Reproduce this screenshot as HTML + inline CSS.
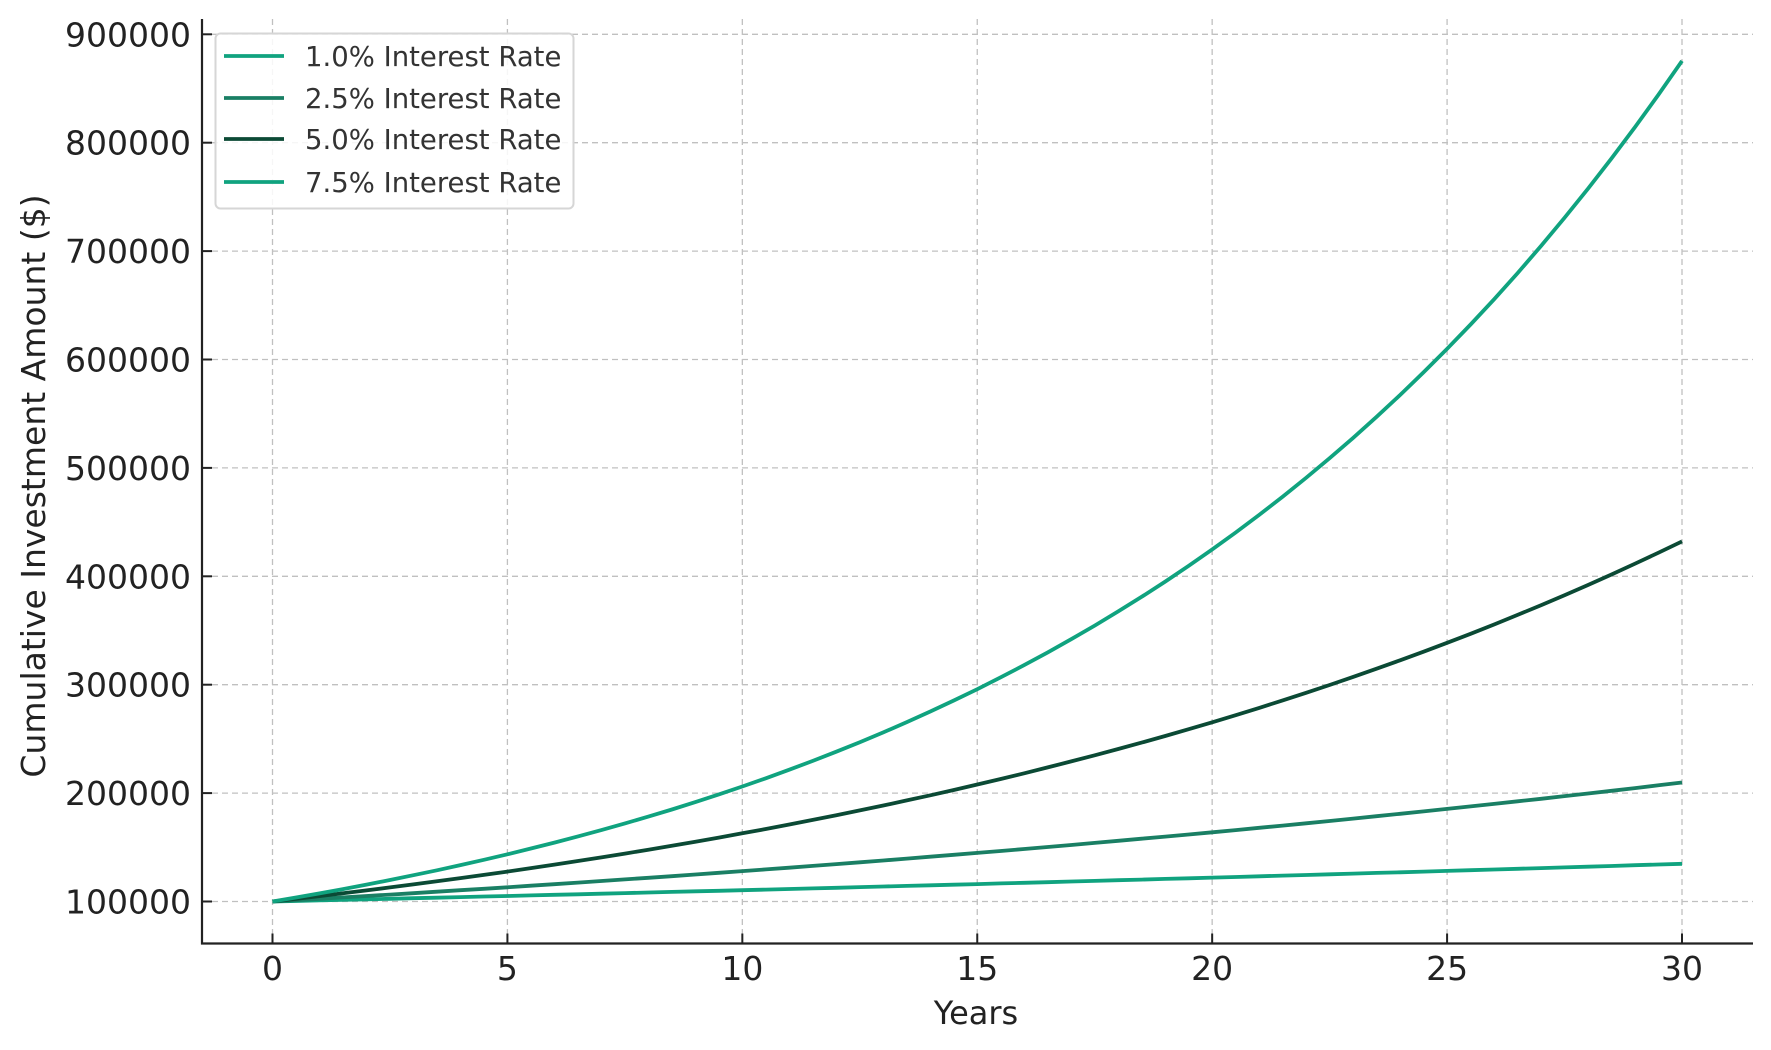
<!DOCTYPE html>
<html><head><meta charset="utf-8"><style>
html,body{margin:0;padding:0;background:#fff;}
svg{display:block;font-family:"DejaVu Sans","Liberation Sans",sans-serif;}
</style></head><body>
<svg id="c" width="1771" height="1050" viewBox="0 0 1771 1050" xmlns="http://www.w3.org/2000/svg">
<rect width="1771" height="1050" fill="#fff"/>
<g id="grid" stroke="#c0c0c0" stroke-width="1.3" stroke-dasharray="6,4"></g>
<g id="series" fill="none" stroke-width="3.8" stroke-linejoin="round"></g>
<g stroke="#222" stroke-width="2.2">
<line x1="202" y1="19" x2="202" y2="944.5"/>
<line x1="201" y1="943.5" x2="1753" y2="943.5"/>
</g>
<g id="ticks" stroke="#222" stroke-width="2"></g>
<g id="labels" fill="#222" font-size="33"></g>
<text x="976" y="1024" font-size="32" text-anchor="middle" fill="#222">Years</text>
<text transform="translate(45,486) rotate(-90)" font-size="33" text-anchor="middle" fill="#222">Cumulative Investment Amount ($)</text>
<rect x="215.5" y="33.5" width="358" height="175" rx="5" fill="#fff" fill-opacity="0.85" stroke="#d6d6d6" stroke-width="2"/>
<g font-size="27.5" fill="#333" stroke-width="3.8">
<line x1="224" y1="56" x2="284" y2="56" stroke="#10a37f"/><text x="305" y="66">1.0% Interest Rate</text>
<line x1="224" y1="98" x2="284" y2="98" stroke="#1a7f64"/><text x="305" y="108">2.5% Interest Rate</text>
<line x1="224" y1="139" x2="284" y2="139" stroke="#0b4a35"/><text x="305" y="149">5.0% Interest Rate</text>
<line x1="224" y1="182" x2="284" y2="182" stroke="#10a37f"/><text x="305" y="192">7.5% Interest Rate</text>
</g>
</svg>
<script>
var NS="http://www.w3.org/2000/svg";
function X(t){return 272.5+t*(1682-272.5)/30;}
function Y(v){return 901.5-(v-100000)/100000*108.4;}
function el(p,tag,a,txt){var e=document.createElementNS(NS,tag);for(var k in a)e.setAttribute(k,a[k]);if(txt)e.textContent=txt;document.getElementById(p).appendChild(e);}
for(var t=0;t<=30;t+=5){el("grid","line",{x1:X(t),y1:19,x2:X(t),y2:943});
 el("ticks","line",{x1:X(t),y1:943.5,x2:X(t),y2:933.5});
 el("labels","text",{x:X(t),y:980,"text-anchor":"middle"},String(t));}
for(var v=100000;v<=900000;v+=100000){el("grid","line",{x1:202,y1:Y(v),x2:1753,y2:Y(v)});
 el("ticks","line",{x1:202,y1:Y(v),x2:212,y2:Y(v)});
 el("labels","text",{x:191,y:Y(v)+12,"text-anchor":"end"},String(v));}
var rs=[[0.01,"#10a37f"],[0.025,"#1a7f64"],[0.05,"#0b4a35"],[0.075,"#10a37f"]];
rs.forEach(function(r){var pts=[];for(var t=0;t<=30;t+=0.5){pts.push(X(t).toFixed(1)+","+Y(100000*Math.pow(1+r[0],t)).toFixed(1));}
 el("series","polyline",{points:pts.join(" "),stroke:r[1]});});
</script>
</body></html>
